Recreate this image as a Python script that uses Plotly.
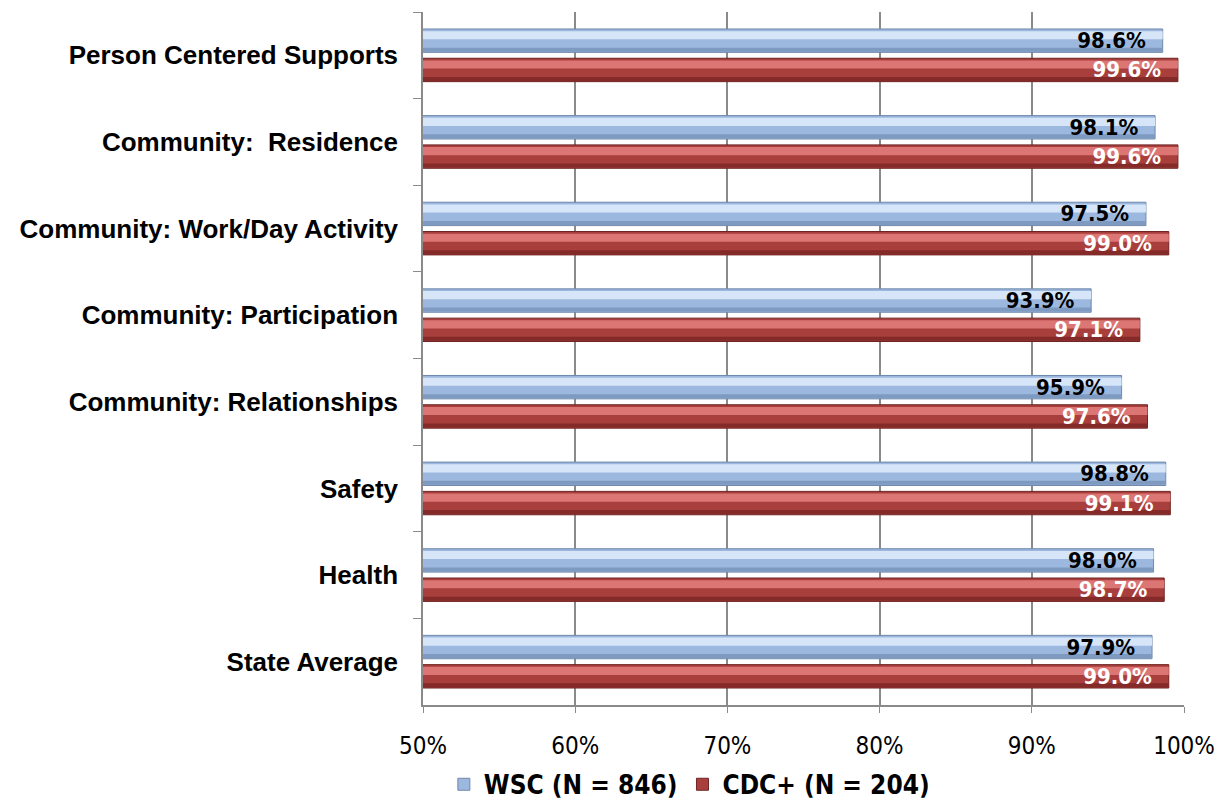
import plotly.graph_objects as go

# Survey domains, listed top to bottom
categories = [
    "Person Centered Supports",
    "Community:  Residence",
    "Community: Work/Day Activity",
    "Community: Participation",
    "Community: Relationships",
    "Safety",
    "Health",
    "State Average",
]
wsc_values = [98.6, 98.1, 97.5, 93.9, 95.9, 98.8, 98.0, 97.9]
cdc_values = [99.6, 99.6, 99.0, 97.1, 97.6, 99.1, 98.7, 99.0]
series_names = ["WSC (N = 846)", "CDC+ (N = 204)"]
x_ticks = [50, 60, 70, 80, 90, 100]
x_tick_labels = ["50%", "60%", "70%", "80%", "90%", "100%"]

LABEL_FONT = "Liberation Sans Narrow, DejaVu Sans Condensed, Arial Narrow, sans-serif"
CAT_FONT = "Liberation Sans, Arial, sans-serif"

BAR_W = 0.27
# (values, offset, base colour, highlight, shade, border, label colour)
styles = [
    (wsc_values, -0.304, "#9DB8DE", "#D6E6F8", "#7F9AC0", "#7088AC", "black"),
    (cdc_values, 0.034, "#A93F3C", "#DB7674", "#842A28", "#6E2422", "white"),
]

fig = go.Figure()

# Base bars (these carry the legend entries)
for name, (vals, off, base, hi, sh, border, _) in zip(series_names, styles):
    fig.add_trace(go.Bar(
        y=categories, x=vals, base=0, orientation="h", name=name,
        offset=off, width=BAR_W,
        marker=dict(color=base, line=dict(color=border, width=1)),
        hoverinfo="skip",
    ))

# Light highlight along the upper part of each bar
for name, (vals, off, base, hi, sh, border, _) in zip(series_names, styles):
    fig.add_trace(go.Bar(
        y=categories, x=vals, orientation="h", showlegend=False,
        offset=off + 0.025, width=BAR_W * 0.35,
        marker=dict(color=hi, line=dict(width=0)),
        hoverinfo="skip",
    ))

# Darker shade along the lower edge
for name, (vals, off, base, hi, sh, border, _) in zip(series_names, styles):
    fig.add_trace(go.Bar(
        y=categories, x=vals, orientation="h", showlegend=False,
        offset=off + BAR_W * 0.8, width=BAR_W * 0.17,
        marker=dict(color=sh, line=dict(width=0)),
        hoverinfo="skip",
    ))

# Value labels at the end of each bar
for name, (vals, off, base, hi, sh, border, lab) in zip(series_names, styles):
    fig.add_trace(go.Bar(
        y=categories, x=vals, orientation="h", showlegend=False,
        offset=off, width=BAR_W,
        marker=dict(color="rgba(0,0,0,0)", line=dict(width=0)),
        text=[f"{v:.1f}%\u2002\u2009" for v in vals],
        textposition="inside", insidetextanchor="end",
        textfont=dict(family=LABEL_FONT, size=22, color=lab, weight="bold"),
        hoverinfo="skip",
    ))

fig.update_layout(
    width=1220, height=802,
    margin=dict(l=423, r=36, t=12, b=97),
    barmode="overlay",
    plot_bgcolor="white", paper_bgcolor="white",
    uniformtext=dict(minsize=22, mode="show"),
    legend=dict(
        orientation="h", x=0.35, xanchor="center",
        yref="container", y=0.022, yanchor="middle",
        font=dict(family=LABEL_FONT, size=26, color="black", weight="bold"),
        itemwidth=30, traceorder="normal",
    ),
    showlegend=True,
)

fig.update_xaxes(
    range=[50, 100], tickvals=x_ticks, ticktext=x_tick_labels,
    showgrid=True, gridcolor="#8A8A8A", gridwidth=1.5,
    showline=True, linecolor="#8A8A8A", linewidth=1.5,
    ticks="outside", ticklen=6, tickcolor="#8A8A8A",
    tickfont=dict(family=LABEL_FONT, size=24, color="black"),
    ticklabelstandoff=12, automargin=False,
    zeroline=False, mirror=False,
)
fig.update_yaxes(
    autorange="reversed", type="category",
    showline=True, linecolor="#8A8A8A", linewidth=1.5,
    ticks="outside", ticklen=8, tickcolor="#8A8A8A", tickson="boundaries",
    tickfont=dict(family=CAT_FONT, size=26, color="black", weight="bold"),
    ticklabelstandoff=18, showgrid=False, automargin=False,
)

fig.write_html("out.html")
